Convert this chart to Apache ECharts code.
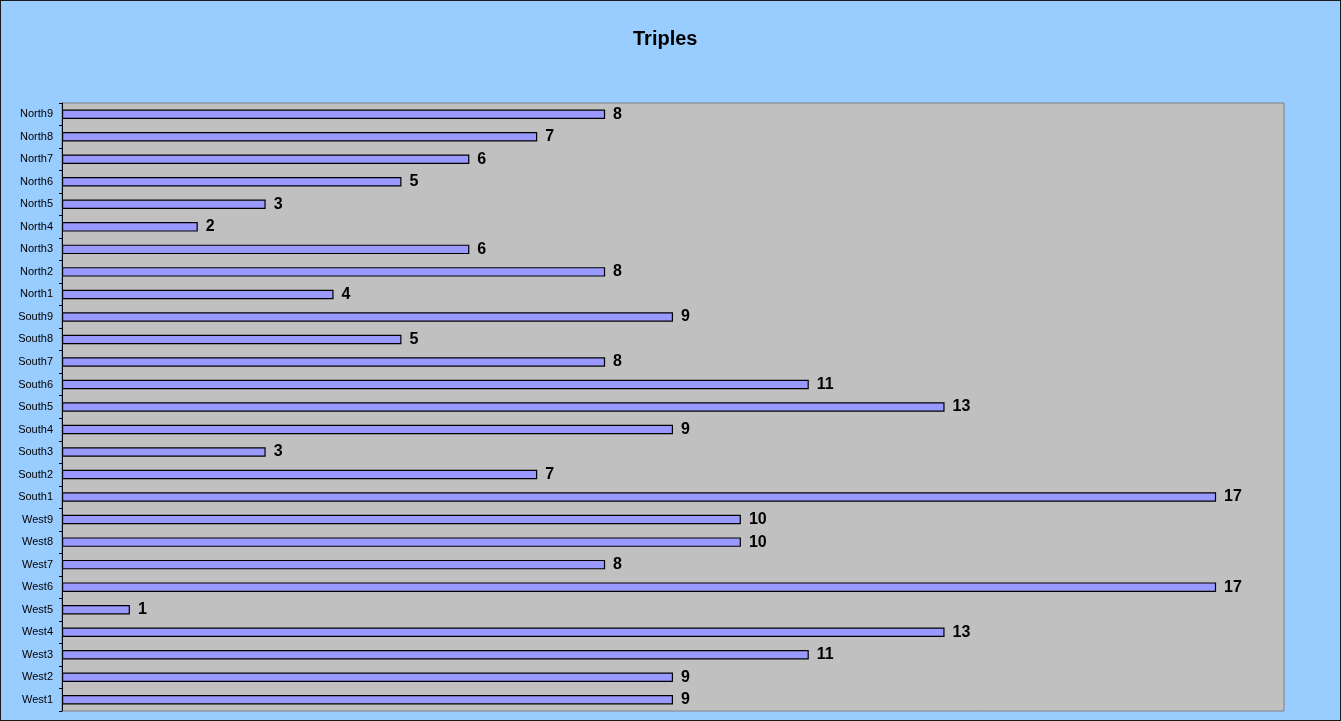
<!DOCTYPE html>
<html>
<head>
<meta charset="utf-8">
<script src="https://cdn.jsdelivr.net/npm/echarts@6/dist/echarts.min.js"></script>
<style>
  html, body { margin: 0; padding: 0; background: #99CCFF; }
  #chart { width: 1341px; height: 721px; box-sizing: border-box; border: 1px solid #1a1a1a; }
</style>
</head>
<body>
<div id="chart"></div>
<script>
// categories bottom to top
var teams = ['West1', 'West2', 'West3', 'West4', 'West5', 'West6', 'West7', 'West8', 'West9',
    'South1', 'South2', 'South3', 'South4', 'South5', 'South6', 'South7', 'South8', 'South9',
    'North1', 'North2', 'North3', 'North4', 'North5', 'North6', 'North7', 'North8', 'North9'];
var triples = [9, 9, 11, 13, 1, 17, 8, 10, 10,
    17, 7, 3, 9, 13, 11, 8, 5, 9,
    4, 8, 6, 2, 3, 5, 6, 7, 8];

var myChart = echarts.init(document.getElementById('chart'));
var option = {
    backgroundColor: '#99CCFF',
    animation: false,
    title: {
        text: 'Triples',
        left: 627,
        top: 23,
        textStyle: {
            color: '#000',
            fontFamily: 'Liberation Sans, Arial',
            fontWeight: 'bold',
            fontSize: 20
        }
    },
    grid: {
        left: 61,
        right: 56,
        top: 102,
        bottom: 9,
        show: true,
        backgroundColor: '#C0C0C0',
        borderColor: '#808080',
        borderWidth: 1
    },
    xAxis: {
        type: 'value',
        min: 0,
        max: 18,
        show: false,
        splitLine: { show: false }
    },
    yAxis: {
        type: 'category',
        data: teams,
        axisLine: { show: true, lineStyle: { color: '#000', width: 1 } },
        axisTick: { show: true, length: 3, lineStyle: { color: '#000' } },
        axisLabel: {
            color: '#000',
            fontFamily: 'Liberation Sans, Arial',
            fontSize: 11,
            margin: 9
        },
        splitLine: { show: false }
    },
    series: [{
        type: 'bar',
        data: triples,
        barCategoryGap: '58%',
        itemStyle: {
            color: '#9999FF',
            borderColor: '#000',
            borderWidth: 1.2
        },
        label: {
            show: true,
            position: 'right',
            distance: 8,
            color: '#000',
            fontFamily: 'Liberation Sans, Arial',
            fontWeight: 'bold',
            fontSize: 16
        }
    }]
};
myChart.setOption(option);
</script>
</body>
</html>
